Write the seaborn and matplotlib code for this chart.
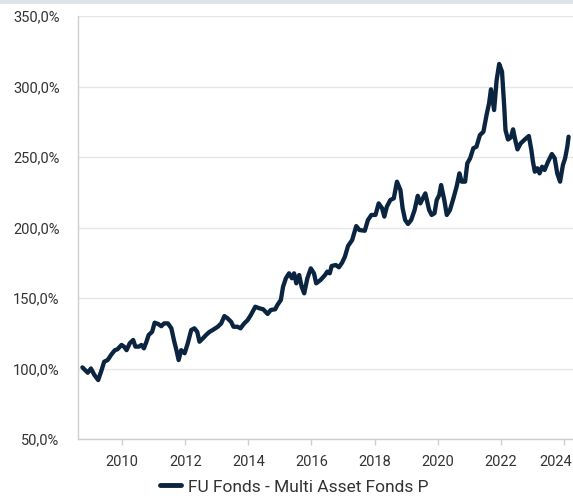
import numpy as np
import pandas as pd
import matplotlib
matplotlib.use("Agg")
import matplotlib.pyplot as plt
import matplotlib.ticker as mticker
import matplotlib.transforms as mtransforms
import seaborn as sns

# (decimal year, indexed value in %)
years = [
    2008.74, 2008.91, 2009.01, 2009.12, 2009.24, 2009.35, 2009.43, 2009.54, 2009.67, 2009.77,
    2009.85, 2009.98, 2010.06, 2010.14, 2010.24, 2010.35, 2010.42, 2010.53, 2010.61, 2010.69,
    2010.77, 2010.84, 2010.95, 2011.03, 2011.14, 2011.24, 2011.33, 2011.45, 2011.56, 2011.64,
    2011.72, 2011.79, 2011.87, 2011.98, 2012.08, 2012.19, 2012.29, 2012.38, 2012.45, 2012.56,
    2012.66, 2012.77, 2012.87, 2013.03, 2013.14, 2013.24, 2013.34, 2013.45, 2013.53, 2013.66,
    2013.75, 2013.87, 2013.98, 2014.08, 2014.22, 2014.35, 2014.47, 2014.61, 2014.71, 2014.85,
    2014.92, 2015.03, 2015.10, 2015.19, 2015.29, 2015.38, 2015.45, 2015.52, 2015.61, 2015.69,
    2015.77, 2015.87, 2015.98, 2016.08, 2016.15, 2016.29, 2016.43, 2016.50, 2016.58, 2016.64,
    2016.77, 2016.87, 2016.97, 2017.06, 2017.16, 2017.29, 2017.42, 2017.52, 2017.69, 2017.79,
    2017.90, 2018.03, 2018.13, 2018.24, 2018.31, 2018.39, 2018.50, 2018.61, 2018.71, 2018.82,
    2018.89, 2018.97, 2019.06, 2019.16, 2019.27, 2019.37, 2019.45, 2019.61, 2019.73, 2019.81,
    2019.90, 2019.97, 2020.05, 2020.11, 2020.21, 2020.29, 2020.39, 2020.50, 2020.60, 2020.69,
    2020.76, 2020.87, 2020.94, 2021.03, 2021.13, 2021.23, 2021.34, 2021.45, 2021.55, 2021.63,
    2021.69, 2021.79, 2021.87, 2021.95, 2022.04, 2022.11, 2022.15, 2022.23, 2022.32, 2022.39,
    2022.46, 2022.53, 2022.63, 2022.76, 2022.89, 2022.97, 2023.02, 2023.08, 2023.16, 2023.23,
    2023.31, 2023.39, 2023.50, 2023.62, 2023.71, 2023.79, 2023.88, 2023.97, 2024.04, 2024.11,
    2024.15,
]
values = [
    100.8, 97.0, 100.0, 95.4, 91.8, 99.0, 104.8, 106.0, 110.3, 113.0,
    113.6, 116.7, 115.5, 113.0, 117.9, 120.2, 115.5, 115.5, 116.7, 114.3,
    119.0, 123.8, 126.0, 132.5, 131.6, 130.0, 132.0, 132.0, 128.5, 120.2,
    113.0, 106.0, 113.0, 110.8, 117.9, 127.3, 128.5, 126.0, 119.0, 121.4,
    123.8, 126.0, 127.3, 129.6, 132.0, 137.2, 135.6, 133.2, 129.6, 129.6,
    128.5, 132.0, 134.4, 138.0, 143.8, 142.7, 142.0, 138.7, 141.5, 142.0,
    145.0, 148.6, 158.0, 164.0, 167.5, 164.0, 167.5, 160.4, 166.3, 158.0,
    153.3, 164.0, 171.0, 167.5, 160.4, 162.8, 166.3, 168.7, 167.5, 172.7,
    173.4, 171.8, 175.0, 179.3, 186.9, 191.1, 201.0, 198.2, 197.7, 205.3,
    208.9, 208.9, 217.1, 213.6, 207.7, 214.8, 219.5, 220.7, 232.5, 226.6,
    213.6, 205.3, 202.5, 205.3, 212.4, 222.5, 217.1, 224.2, 212.4, 208.9,
    210.1, 219.5, 223.0, 230.1, 219.5, 208.9, 212.4, 220.7, 228.9, 238.4,
    232.5, 232.5, 245.5, 249.1, 256.2, 257.3, 265.6, 267.9, 279.8, 288.1,
    298.0, 283.3, 304.6, 316.0, 310.5, 285.7, 269.1, 262.4, 263.9, 269.6,
    262.0, 255.4, 259.6, 262.4, 264.9, 255.0, 246.7, 239.6, 242.0, 238.4,
    243.1, 240.8, 246.7, 252.1, 249.1, 238.4, 232.5, 244.3, 249.1, 257.3,
    264.4,
]
series_name = "FU Fonds - Multi Asset Fonds P"
x_ticks = [2010, 2012, 2014, 2016, 2018, 2020, 2022, 2024]
y_ticks = [50, 100, 150, 200, 250, 300, 350]

df = pd.DataFrame({"year": years, "value": values, "fund": series_name})

sns.set_theme(style="white")
plt.rcParams["font.family"] = ["Roboto", "DejaVu Sans"]

line_color = "#0b2440"
grid_color = "#e6e6e6"
axis_color = "#cfcfcf"
text_color = "#333333"

fig = plt.figure(figsize=(5.73, 4.96), dpi=100)
ax = fig.add_axes([78.3 / 573, 57 / 496, 1 - 78.3 / 573, (439 - 16) / 496])

# thin light band at the very top
fig.patches.append(plt.Rectangle((0, 1 - 3.5 / 496), 1, 3.5 / 496, transform=fig.transFigure,
                                 facecolor="#dde3e7", edgecolor="none"))

sns.lineplot(data=df, x="year", y="value", hue="fund", palette=[line_color],
             linewidth=3.1, ax=ax, legend=False)

ax.set_xlim(2008.61, 2024.29)
ax.set_ylim(50, 350)
ax.set_xticks(x_ticks)
ax.set_yticks(y_ticks)
ax.yaxis.set_major_formatter(mticker.FuncFormatter(lambda v, p: f"{v:.1f}%".replace(".", ",")))
ax.set_xlabel("")
ax.set_ylabel("")

ax.grid(axis="y", color=grid_color, linewidth=1.0)
ax.grid(axis="x", visible=False)
ax.set_axisbelow(True)
for side in ["top", "right"]:
    ax.spines[side].set_visible(False)
for side in ["left", "bottom"]:
    ax.spines[side].set_color(axis_color)
    ax.spines[side].set_linewidth(1.0)

ax.tick_params(axis="y", length=8.5, width=1.0, color=grid_color, pad=5,
               labelsize=10.5, labelcolor=text_color)
ax.tick_params(axis="x", length=4.5, width=1.0, color=axis_color, pad=7,
               labelsize=10.5, labelcolor=text_color, bottom=True)

# last year label is nudged left so it stays mostly inside the canvas
last = ax.get_xticklabels()[-1]
last.set_transform(last.get_transform() + mtransforms.ScaledTranslation(-8 / 100, 0, fig.dpi_scale_trans))

handle = plt.Line2D([], [], color=line_color, linewidth=3.5)
fig.legend([handle], [series_name], loc="center", bbox_to_anchor=(294 / 573, 1 - 487 / 496),
           frameon=False, fontsize=12.5, handlelength=1.2, handletextpad=0.4,
           labelcolor=text_color)

fig.savefig("out.png", dpi=100)
